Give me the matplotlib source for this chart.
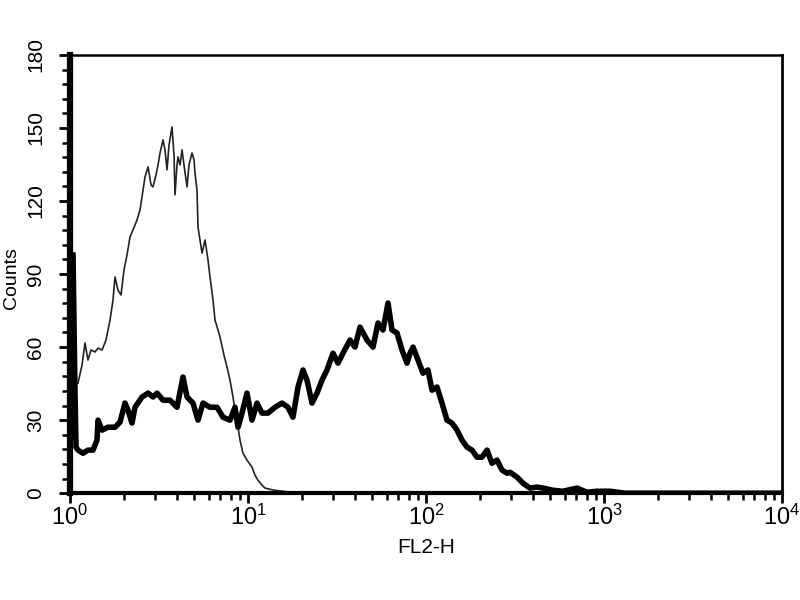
import numpy as np
import matplotlib
matplotlib.use("Agg")
import matplotlib.pyplot as plt
from matplotlib.ticker import LogLocator, MultipleLocator, NullFormatter

plt.rcParams['font.family'] = ['Liberation Sans', 'DejaVu Sans']

# control (isotype) histogram: FL2-H value, counts
ctrl_x = [1.109, 1.168, 1.214, 1.262, 1.312, 1.382, 1.437, 1.513, 1.593, 1.678,
          1.744, 1.790, 1.861, 1.934, 2.011, 2.090, 2.173, 2.259, 2.379, 2.474,
          2.572, 2.639, 2.744, 2.852, 2.927, 3.042, 3.122, 3.204, 3.331, 3.418,
          3.508, 3.600, 3.741, 3.840, 3.890, 3.992, 4.044, 4.150, 4.259, 4.370,
          4.544, 4.662, 4.846, 4.973, 5.038, 5.170, 5.238, 5.375, 5.515, 5.734,
          5.961, 6.117, 6.360, 6.526, 6.785, 6.962, 7.331, 7.621, 7.923, 8.237,
          8.452, 8.674, 9.018, 9.375, 9.872, 10.53, 10.95, 11.38, 11.99, 12.46,
          13.30, 14.18, 15.73, 17.67, 22.30, 32.88, 10000]
ctrl_y = [45.2, 52.6, 61.7, 54.7, 58.8, 58.0, 59.6, 58.8, 62.9, 71.1,
          79.3, 88.8, 83.4, 81.4, 91.7, 97.8, 105.2, 108.1, 112.2, 116.3,
          124.5, 129.9, 134.0, 126.6, 125.8, 130.7, 134.8, 139.7, 145.1, 141.0,
          132.8, 143.0, 150.4, 138.9, 122.5, 134.8, 138.1, 134.8, 141.0, 134.8,
          125.8, 134.8, 139.7, 136.9, 131.5, 124.5, 109.3, 104.0, 98.6, 104.0,
          95.8, 88.8, 79.3, 71.1, 67.0, 64.1, 56.7, 51.8, 46.4, 39.5,
          34.1, 30.0, 21.8, 16.4, 13.6, 10.7, 7.4, 5.3, 3.3, 2.1,
          1.6, 1.2, 0.8, 0.4, 0.4, 0.0, 0.0]

# stained sample histogram
stain_x = [1.040, 1.067, 1.081, 1.109, 1.183, 1.262, 1.347, 1.418, 1.437, 1.513,
           1.635, 1.790, 1.910, 2.037, 2.118, 2.230, 2.318, 2.539, 2.744, 2.927,
           3.082, 3.331, 3.647, 3.992, 4.314, 4.544, 4.909, 5.238, 5.587, 6.117,
           6.697, 7.238, 7.923, 8.452, 8.787, 9.255, 9.872, 10.53, 11.24, 11.99,
           12.95, 14.18, 15.52, 16.78, 17.89, 19.10, 20.37, 21.46, 22.88, 24.41,
           26.04, 27.79, 30.03, 32.03, 34.17, 37.41, 39.91, 42.58, 46.62, 50.38,
           53.75, 57.34, 61.17, 64.42, 68.73, 73.32, 78.22, 81.31, 84.53, 90.18,
           96.20, 102.6, 108.1, 115.3, 123.0, 131.2, 140.0, 149.4, 159.3, 170.0,
           181.3, 193.4, 206.4, 220.2, 234.9, 250.6, 267.3, 285.2, 296.5, 324.6,
           350.7, 383.9, 420.4, 454.3, 517.0, 588.5, 705.2, 802.6, 913.4, 1081,
           1312, 10000]
stain_y = [97.8, 41.1, 18.9, 17.7, 16.4, 17.7, 17.7, 21.8, 30.0, 25.9,
           27.1, 27.1, 29.2, 37.0, 34.1, 28.8, 35.3, 39.5, 41.1, 39.5,
           41.1, 38.2, 38.2, 35.3, 47.7, 39.5, 37.0, 30.0, 37.0, 35.3,
           35.3, 31.2, 30.0, 35.3, 27.1, 32.9, 41.1, 30.0, 37.0, 32.9,
           32.9, 35.3, 37.0, 35.3, 31.2, 43.6, 50.6, 46.4, 37.0, 41.1,
           46.4, 50.6, 57.5, 53.4, 57.5, 62.9, 60.0, 68.2, 62.9, 60.0,
           69.9, 67.0, 78.1, 67.0, 65.8, 58.8, 53.4, 57.5, 60.0, 54.7,
           49.3, 50.6, 42.3, 43.6, 37.0, 30.0, 28.8, 25.9, 21.8, 18.9,
           17.7, 14.8, 14.8, 17.7, 12.3, 13.6, 9.5, 8.2, 8.6, 6.6,
           4.1, 2.1, 2.5, 2.1, 1.2, 0.8, 2.1, 0.4, 0.8, 0.8,
           0.0, 0.0]

y_ticks = [0, 30, 60, 90, 120, 150, 180]

fig = plt.figure(figsize=(8, 6), dpi=100)
ax = fig.add_axes([0.0875, 0.178, 0.89, 0.7305])

ax.plot(ctrl_x, ctrl_y, color='#222222', lw=1.2)
ax.plot(stain_x, stain_y, color='black', lw=4)

ax.set_xscale('log')
ax.set_xlim(1, 10000)
ax.set_ylim(0, 180)

ax.xaxis.set_major_locator(LogLocator(base=10, numticks=10))
ax.xaxis.set_minor_locator(LogLocator(base=10, subs=range(2, 10), numticks=20))
ax.xaxis.set_minor_formatter(NullFormatter())
ax.set_yticks(y_ticks)
ax.yaxis.set_minor_locator(MultipleLocator(6))

ax.tick_params(axis='x', which='major', direction='out', length=7, width=2,
               labelsize=17, pad=1)
ax.tick_params(axis='x', which='minor', direction='out', length=5, width=1.8)
ax.tick_params(axis='y', which='major', direction='out', length=8, width=2,
               labelsize=15, pad=10)
ax.tick_params(axis='y', which='minor', direction='out', length=6, width=1.8)
for lbl in ax.get_yticklabels():
    lbl.set_rotation(90)
    lbl.set_va('center')

ax.spines['left'].set_linewidth(4.5)
ax.spines['bottom'].set_linewidth(3)
ax.spines['top'].set_linewidth(1.8)
ax.spines['right'].set_linewidth(2)

ax.set_xlabel('FL2-H', fontsize=15, labelpad=6)
ax.set_ylabel('Counts', fontsize=14)
ax.yaxis.set_label_coords(-0.07, 0.49)

fig.savefig('out.png', dpi=100)
